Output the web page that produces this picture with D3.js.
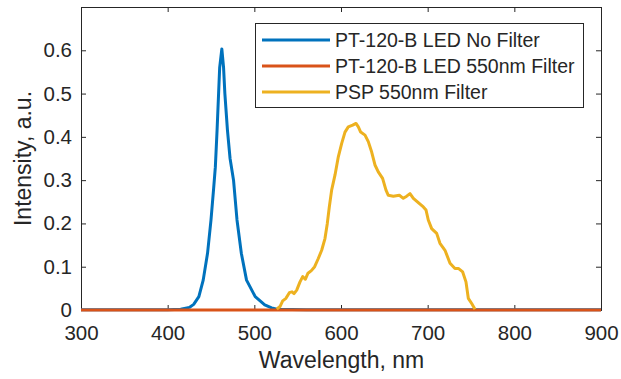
<!DOCTYPE html>
<html><head><meta charset="utf-8">
<script src="https://cdn.jsdelivr.net/npm/d3@7"></script>
<style>
body{margin:0;background:#fff;}
text{font-family:"Liberation Sans",Arial,Helvetica,sans-serif;fill:#262626;}
</style></head>
<body><svg id="chart" width="621" height="379"></svg>
<script>
// Data
const seriesNames = ["PT-120-B LED No Filter","PT-120-B LED 550nm Filter","PSP 550nm Filter"];
const colors = ["#0072BD","#D95319","#EDB120"];
const xTicks = [300,400,500,600,700,800,900];
const yTicks = [0,0.1,0.2,0.3,0.4,0.5,0.6];

const blueWl  = [300,350,400,415,425,430,436,441,446,450,453,455,457,460,462.5,464.5,466,469,472,476,480,485,491,501,512,520,526,560,600,700,800,900];
const blueVal = [0.0005,0.0005,0.0005,0.002,0.006,0.013,0.031,0.069,0.131,0.208,0.28,0.33,0.415,0.56,0.603,0.56,0.50,0.415,0.35,0.30,0.208,0.131,0.069,0.031,0.012,0.005,0.002,0.0005,0.0005,0.0005,0.0005,0.0005];

const orangeWl  = [300,400,500,600,700,800,900];
const orangeVal = [0,0,0,0,0,0,0];

const pspWl  = [525.8,529.6,532.7,536.5,540.4,543.5,545.8,548.9,552.7,555.8,558.8,561.9,565.8,569.6,573.8,577.7,581.5,584.2,586.5,589.2,593.1,596.9,600.8,604.6,608.4,613.5,617.3,620,622.7,627.7,631.5,635.4,639.2,643,648,651.9,654.6,660.4,667.3,671.9,675.8,679.6,683.5,689.2,695,698.1,700.7,704.6,710.4,714.2,720,725.8,731.5,735.4,740.4,744.2,746.9,750.8,754.6];
const pspVal = [0.002,0.008,0.021,0.027,0.040,0.042,0.038,0.046,0.065,0.077,0.071,0.085,0.091,0.100,0.119,0.138,0.165,0.200,0.238,0.277,0.312,0.354,0.385,0.411,0.423,0.427,0.431,0.423,0.411,0.404,0.389,0.365,0.335,0.319,0.304,0.277,0.265,0.263,0.265,0.258,0.263,0.269,0.258,0.248,0.238,0.231,0.208,0.188,0.177,0.154,0.138,0.108,0.096,0.096,0.088,0.065,0.027,0.015,0.002];

const svg = d3.select("#chart");
const L=81, R=601, T=7, B=310;
const x = d3.scaleLinear().domain([300,900]).range([L,R]);
const y = d3.scaleLinear().domain([0,0.7]).range([B,T]);

// axes (drawn first, lines on top as in MATLAB)
const axCol="#262626";
const xAx = svg.append("g").attr("transform",`translate(0,${B})`)
  .call(d3.axisBottom(x).tickValues(xTicks).tickSize(-5).tickPadding(15).tickFormat(d3.format("d")));
const xAxT = svg.append("g").attr("transform",`translate(0,${T})`)
  .call(d3.axisTop(x).tickValues(xTicks).tickSize(-5).tickFormat(""));
const yAx = svg.append("g").attr("transform",`translate(${L},0)`)
  .call(d3.axisLeft(y).tickValues(yTicks).tickSize(-5).tickPadding(9).tickFormat(d=>d===0?"0":d3.format(".1f")(d)));
const yAxR = svg.append("g").attr("transform",`translate(${R},0)`)
  .call(d3.axisRight(y).tickValues(yTicks).tickSize(-5).tickFormat(""));
[xAx,xAxT,yAx,yAxR].forEach(g=>{
  g.selectAll("path").attr("stroke",axCol).attr("stroke-width",1);
  g.selectAll("line").attr("stroke",axCol).attr("stroke-width",1);
  g.selectAll("text").attr("font-size",20.5).attr("fill",axCol).style("font-family","Liberation Sans, Arial, sans-serif");
});

const line = d3.line().x(d=>x(d[0])).y(d=>y(d[1]));
const series = [
  d3.zip(blueWl, blueVal),
  d3.zip(orangeWl, orangeVal),
  d3.zip(pspWl, pspVal)
];
const gL = svg.append("g");
series.forEach((s,i)=>{
  gL.append("path").datum(s).attr("d",line).attr("fill","none")
    .attr("stroke",colors[i]).attr("stroke-width",3).attr("stroke-linejoin","round");
});

svg.append("text").attr("x",(L+R)/2 + 0.5).attr("y",368).attr("text-anchor","middle")
  .attr("font-size",23).text("Wavelength, nm");
svg.append("text").attr("transform",`translate(31,${(T+B)/2}) rotate(-90)`).attr("text-anchor","middle")
  .attr("font-size",23).text("Intensity, a.u.");

// legend
const lg = svg.append("g");
lg.append("rect").attr("x",255.5).attr("y",23.5).attr("width",328).attr("height",84)
  .attr("fill","#fff").attr("stroke",axCol).attr("stroke-width",1);
seriesNames.forEach((n,i)=>{
  const yy = 40 + i*26;
  lg.append("line").attr("x1",262).attr("x2",330).attr("y1",yy).attr("y2",yy)
    .attr("stroke",colors[i]).attr("stroke-width",3);
  lg.append("text").attr("x",335).attr("y",yy).attr("dy","0.35em").attr("font-size",19.5).attr("fill","#000").text(n);
});
</script></body></html>
